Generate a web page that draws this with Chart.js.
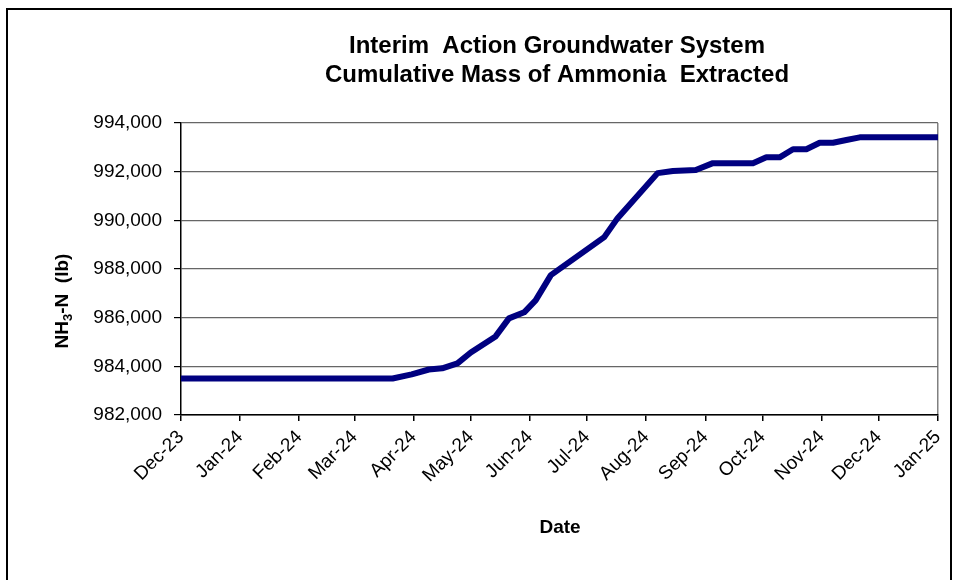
<!DOCTYPE html>
<html>
<head>
<meta charset="utf-8">
<title>Cumulative Mass of Ammonia Extracted</title>
<script src="https://cdn.jsdelivr.net/npm/chart.js@4.4.1/dist/chart.umd.min.js"></script>
<style>
    body { margin: 0; background: #fff; }
    #wrap { position: relative; width: 959px; height: 580px; overflow: hidden; }
    #frame { position: absolute; left: 6px; top: 8px; width: 946px; height: 600px; border: 2px solid #000; box-sizing: border-box; }
    #chartBox { position: absolute; left: 0; top: 0; width: 959px; height: 580px; }
</style>
</head>
<body>
<div id="wrap">
    <div id="frame"></div>
    <div id="chartBox"><canvas id="ammoniaChart"></canvas></div>
</div>
<script>
// sample dates and cumulative NH3-N mass (lb)
const sampleDates = [
    "2023-12-01", "2024-03-21", "2024-03-31", "2024-04-09", "2024-04-16", "2024-04-24",
    "2024-05-01", "2024-05-14", "2024-05-21", "2024-05-29", "2024-06-04", "2024-06-12",
    "2024-07-10", "2024-07-17", "2024-08-07", "2024-08-15", "2024-08-27", "2024-09-05",
    "2024-09-26", "2024-10-03", "2024-10-10", "2024-10-17", "2024-10-24", "2024-10-31",
    "2024-11-07", "2024-11-14", "2024-11-21", "2025-01-01"
];
const massLb = [
    983500, 983500, 983670, 983870, 983920, 984120,
    984570, 985230, 985970, 986220, 986710, 987750,
    989310, 990090, 991940, 992030, 992070, 992350,
    992350, 992590, 992590, 992920, 992920, 993190,
    993190, 993300, 993410, 993410
];

// x axis ticks (first of each month)
const monthDates = [
    "2023-12-01", "2024-01-01", "2024-02-01", "2024-03-01", "2024-04-01", "2024-05-01", "2024-06-01",
    "2024-07-01", "2024-08-01", "2024-09-01", "2024-10-01", "2024-11-01", "2024-12-01", "2025-01-01"
];
const monthLabels = [
    "Dec-23", "Jan-24", "Feb-24", "Mar-24", "Apr-24", "May-24", "Jun-24",
    "Jul-24", "Aug-24", "Sep-24", "Oct-24", "Nov-24", "Dec-24", "Jan-25"
];
const yTicks = [982000, 984000, 986000, 988000, 990000, 992000, 994000];

const titleLines = ["Interim  Action Groundwater System", "Cumulative Mass of Ammonia  Extracted"];
const xTitle = "Date";

function dayOffset(s) {
    const start = Date.UTC(2023, 11, 1);
    const p = s.split("-");
    const t = Date.UTC(parseInt(p[0]), parseInt(p[1]) - 1, parseInt(p[2]));
    return Math.round((t - start) / 86400000);
}

const monthDays = monthDates.map(dayOffset);
const points = sampleDates.map((d, i) => ({ x: dayOffset(d), y: massLb[i] }));

const FONT = '"Liberation Sans", Arial, sans-serif';

const extraText = {
    id: "extraText",
    afterDraw(chart) {
        const ctx = chart.ctx;
        ctx.save();
        ctx.fillStyle = "#000";
        ctx.textAlign = "center";
        ctx.textBaseline = "middle";
        ctx.font = "bold 24px " + FONT;
        ctx.fillText(titleLines[0], 557, 46);
        ctx.fillText(titleLines[1], 557, 75);

        ctx.font = "bold 19px " + FONT;
        ctx.fillText(xTitle, 560, 528);

        // y axis title with subscript
        ctx.translate(63, 301);
        ctx.rotate(-Math.PI / 2);
        const big = "bold 19px " + FONT;
        const small = "bold 13px " + FONT;
        ctx.font = big;
        const w1 = ctx.measureText("NH").width;
        const w3 = ctx.measureText("-N  (lb)").width;
        ctx.font = small;
        const w2 = ctx.measureText("3").width;
        let x = -(w1 + w2 + w3) / 2;
        ctx.textAlign = "left";
        ctx.font = big;
        ctx.fillText("NH", x, 0);
        x += w1;
        ctx.font = small;
        ctx.fillText("3", x, 5);
        x += w2;
        ctx.font = big;
        ctx.fillText("-N  (lb)", x, 0);
        ctx.restore();
    }
};

const ctx = document.getElementById("ammoniaChart");
new Chart(ctx, {
    type: "line",
    data: {
        datasets: [{
            label: "Cumulative NH3-N",
            data: points,
            borderColor: "#000080",
            borderWidth: 6,
            borderJoinStyle: "round",
            borderCapStyle: "round",
            pointRadius: 0,
            tension: 0,
            fill: false
        }]
    },
    options: {
        responsive: true,
        maintainAspectRatio: false,
        animation: false,
        layout: {
            padding: { top: 123, right: 20, bottom: 0, left: 0 }
        },
        plugins: {
            legend: { display: false },
            tooltip: { enabled: false }
        },
        scales: {
            x: {
                type: "linear",
                min: monthDays[0],
                max: monthDays[monthDays.length - 1],
                afterBuildTicks: function (scale) {
                    scale.ticks = monthDays.map(v => ({ value: v }));
                },
                afterFit: function (scale) {
                    scale.height = 165;
                },
                ticks: {
                    autoSkip: false,
                    minRotation: 45,
                    maxRotation: 45,
                    padding: 5,
                    color: "#000",
                    font: { family: FONT, size: 19 },
                    callback: function (value) {
                        const i = monthDays.indexOf(value);
                        return i === -1 ? "" : monthLabels[i];
                    }
                },
                grid: {
                    drawOnChartArea: true,
                    color: function (c) {
                        return c.index === monthDays.length - 1 ? "#808080" : "rgba(0,0,0,0)";
                    },
                    tickColor: "#000",
                    tickLength: 6,
                    lineWidth: 1.5
                },
                border: { color: "#000", width: 1.5 }
            },
            y: {
                min: yTicks[0],
                max: yTicks[yTicks.length - 1],
                afterBuildTicks: function (scale) {
                    scale.ticks = yTicks.map(v => ({ value: v }));
                },
                afterFit: function (scale) {
                    scale.width = 181;
                },
                ticks: {
                    padding: 12,
                    color: "#000",
                    font: { family: FONT, size: 19 },
                    callback: function (value) {
                        return value.toLocaleString("en-US");
                    }
                },
                grid: {
                    color: "#666",
                    lineWidth: 1.2,
                    tickColor: "#000",
                    tickLength: 7
                },
                border: { color: "#000", width: 1.5 }
            }
        }
    },
    plugins: [extraText]
});
</script>
</body>
</html>
